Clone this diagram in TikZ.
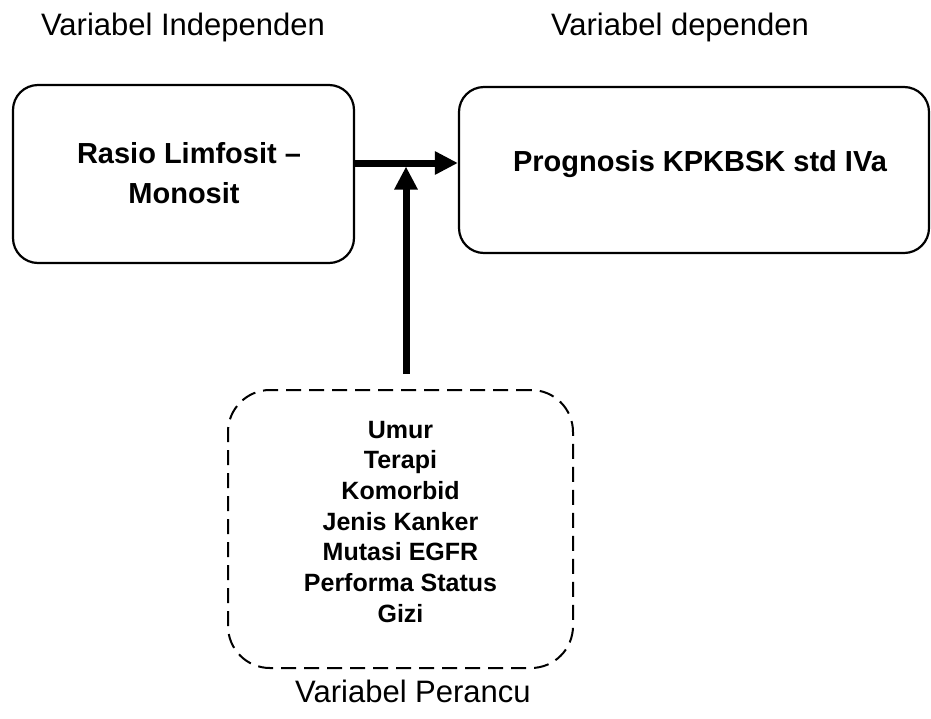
\documentclass[tikz,border=0pt]{standalone}
\usepackage{fontspec}
\setmainfont{Liberation Sans}
\usetikzlibrary{arrows.meta}
\begin{document}
\begin{tikzpicture}[x=1pt,y=-1pt,
  box/.style={draw, line width=2.2pt, rounded corners=25pt, inner sep=0pt},
  pbox/.style={draw, line width=2pt, rounded corners=42pt, dash pattern=on 15pt off 8pt, inner sep=0pt},
  lbl/.style={font=\fontsize{31}{36}\selectfont, anchor=base, inner sep=0pt},
  btxt/.style={font=\bfseries\fontsize{29}{34}\selectfont, anchor=base, inner sep=0pt},
  ptxt/.style={font=\bfseries\fontsize{25}{30}\selectfont, anchor=base, inner sep=0pt},
  conn/.style={line width=7pt, -{Triangle[length=23pt,width=22pt]}}]
\useasboundingbox (0,0) rectangle (931,718);
\node[box, minimum width=341pt, minimum height=178pt] (L) at (183.5,174) {};
\node[box, minimum width=470pt, minimum height=166pt] (R) at (694,170) {};
\node[pbox, minimum width=345pt, minimum height=278pt] (P) at (400.5,529) {};
\node[lbl] (t1) at (183,35) {Variabel Independen};
\node[lbl] (t2) at (680,35) {Variabel dependen};
\node[lbl] (t3) at (413,702) {Variabel Perancu};
\node[btxt] (a1) at (189,163) {Rasio Limfosit –};
\node[btxt] (a2) at (184,203) {Monosit};
\node[btxt] (b1) at (700,171) {Prognosis KPKBSK std IVa};
\foreach \t [count=\i] in {Umur, Terapi, Komorbid, Jenis Kanker, Mutasi EGFR, Performa Status, Gizi}
  \node[ptxt] (p\i) at (400.5, 438+30.7*\i-30.7) {\t};
\coordinate (h) at (0,163);
\draw[conn] (h -| L.east) -- (h -| R.west);
\coordinate (vb) at ([xshift=5.5pt,yshift=15pt]P.north);
\path (vb |- h) coordinate (hv);
\draw[conn] (vb) -- ([yshift=-3.5pt]hv);
\end{tikzpicture}
\end{document}
